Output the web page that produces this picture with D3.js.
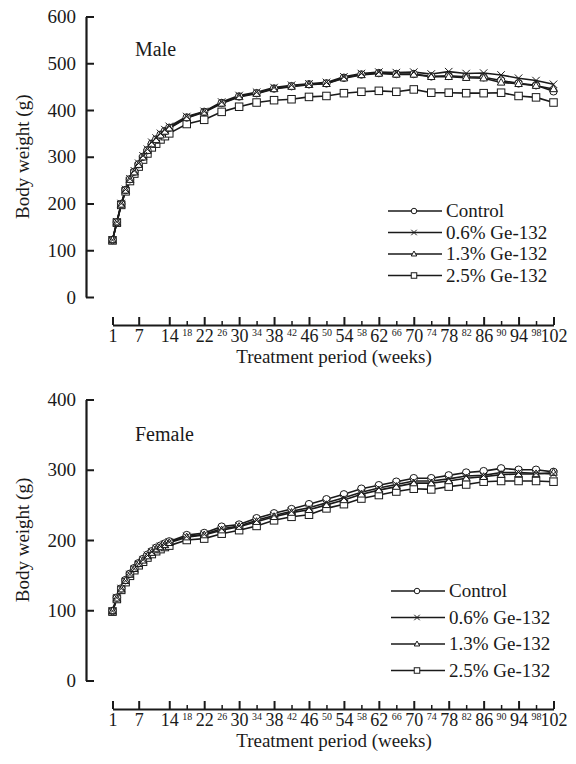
<!DOCTYPE html>
<html>
<head>
<meta charset="utf-8">
<script src="https://cdn.jsdelivr.net/npm/d3@7"></script>
<style>
  body { margin: 0; background: #fff; }
</style>
</head>
<body>
<svg id="chart" width="576" height="764" font-family="'Liberation Serif', 'Times New Roman', serif"></svg>
<script>
// weeks at which body weight was recorded
var weeks = [1,2,3,4,5,6,7,8,9,10,11,12,13,14,18,22,26,30,34,38,42,46,50,54,58,62,66,70,74,78,82,86,90,94,98,102];
var majorTicks = [1,7,14,22,30,38,46,54,62,70,78,86,94,102];
var minorTicks = [18,26,34,42,50,58,66,74,82,90,98];
var groups = ['Control', '0.6% Ge-132', '1.3% Ge-132', '2.5% Ge-132'];
var symbols = ['circle', 'cross', 'triangle', 'square'];

var maleControl = [122,160,199,229,252,268,284,300,314,328,337,347,355,362,384,396,415,429,436,446,451,455,457,469,476,479,477,477,472,473,471,470,463,457,453,440];
var male06 = [122,161,200,230,253,270,286,302,316,331,340,350,358,365,386,397,417,431,438,448,453,456,459,471,478,481,480,481,477,482,478,479,475,468,463,455];
var male13 = [122,160,198,228,251,267,283,299,313,327,336,346,354,361,383,395,414,428,435,445,450,454,456,468,475,478,476,476,471,471,469,468,459,456,452,445];
var male25 = [121,159,197,226,248,264,279,294,307,320,328,337,344,350,370,379,396,407,416,421,423,428,430,436,439,441,439,444,437,437,436,436,437,430,427,416];

var femaleControl = [99,118,131,143,152,160,167,173,179,184,189,192,195,198,207,210,219,222,231,238,244,251,258,265,273,278,283,288,288,292,296,298,302,300,300,297];
var female06 = [99,118,131,142,151,159,166,172,178,183,188,191,194,197,205,208,216,220,228,235,241,246,253,260,268,274,279,284,284,287,291,292,296,296,295,294];
var female13 = [99,117,130,142,151,159,166,171,177,182,187,190,193,196,204,207,214,219,226,233,239,243,250,257,265,271,276,281,281,284,288,290,293,294,294,296];
var female25 = [98,116,129,140,149,157,164,169,175,180,184,187,190,192,200,202,209,214,220,228,233,236,245,251,259,264,269,273,272,276,279,283,284,284,284,283];

var maleTicks = [0,100,200,300,400,500,600];
var femaleTicks = [0,100,200,300,400];

var svg = d3.select('#chart');
var x = d3.scaleLinear().domain([1, 102]).range([112.5, 553.5]);
var ink = '#1a1a1a';

function marker(g, type, cx, cy, s) {
  if (type === 'circle') {
    g.append('circle').attr('cx', cx).attr('cy', cy).attr('r', s * 0.5)
      .attr('fill', '#fff').attr('stroke', ink).attr('stroke-width', 1);
  } else if (type === 'square') {
    g.append('rect').attr('x', cx - s / 2).attr('y', cy - s / 2).attr('width', s).attr('height', s)
      .attr('fill', '#fff').attr('stroke', ink).attr('stroke-width', 1);
  } else if (type === 'triangle') {
    var h = s * 0.9;
    g.append('path').attr('d', 'M' + cx + ',' + (cy - h * 0.6) + 'L' + (cx + s / 2) + ',' + (cy + h * 0.4) + 'L' + (cx - s / 2) + ',' + (cy + h * 0.4) + 'Z')
      .attr('fill', '#fff').attr('stroke', ink).attr('stroke-width', 1);
  } else {
    var d = s * 0.5;
    g.append('path').attr('d', 'M' + (cx - d) + ',' + (cy - d) + 'L' + (cx + d) + ',' + (cy + d) + 'M' + (cx + d) + ',' + (cy - d) + 'L' + (cx - d) + ',' + (cy + d))
      .attr('fill', 'none').attr('stroke', ink).attr('stroke-width', 1);
  }
}

function panel(opt) {
  var y = d3.scaleLinear().domain([0, opt.max]).range([opt.bottom, opt.top]);
  var g = svg.append('g');

  // y axis
  var ya = g.append('g').attr('transform', 'translate(86,0)')
    .call(d3.axisLeft(y).tickValues(opt.ticks).tickSizeInner(-8).tickSizeOuter(0).tickPadding(10))
    .attr('font-family', null).attr('font-size', null);
  ya.select('.domain').attr('stroke', ink).attr('stroke-width', 2.2);
  ya.selectAll('.tick line').attr('stroke', ink).attr('stroke-width', 2);
  ya.selectAll('text').attr('font-size', 19).attr('fill', ink);

  g.append('text').attr('transform', 'translate(29,' + (opt.top + opt.bottom) / 2 + ') rotate(-90)')
    .attr('text-anchor', 'middle').attr('font-size', 19).attr('fill', ink).text('Body weight (g)');

  // x axis with major and minor weeks
  var xa = g.append('g').attr('transform', 'translate(0,' + opt.axisY + ')')
    .call(d3.axisBottom(x).tickValues(majorTicks).tickSizeInner(-8).tickSizeOuter(0).tickPadding(4.5))
    .attr('font-family', null).attr('font-size', null);
  xa.select('.domain').attr('stroke', ink).attr('stroke-width', 2.2);
  xa.selectAll('.tick line').attr('stroke', ink).attr('stroke-width', 2);
  xa.selectAll('text').attr('font-size', 18).attr('fill', ink);

  var xm = g.append('g').attr('transform', 'translate(0,' + opt.axisY + ')')
    .call(d3.axisBottom(x).tickValues(minorTicks).tickSizeInner(-4).tickSizeOuter(0).tickPadding(4))
    .attr('font-family', null).attr('font-size', null);
  xm.select('.domain').remove();
  xm.selectAll('.tick line').attr('stroke', ink).attr('stroke-width', 1.5);
  xm.selectAll('text').attr('font-size', 10).attr('fill', ink);

  g.append('text').attr('x', 334).attr('y', opt.axisY + 38).attr('text-anchor', 'middle')
    .attr('font-size', 19).attr('fill', ink).text('Treatment period (weeks)');

  g.append('text').attr('x', 135).attr('y', opt.titleY).attr('font-size', 20).attr('fill', ink).text(opt.title);

  // lines
  var line = d3.line().x(function (d, i) { return x(weeks[i]); }).y(function (d) { return y(d); });
  opt.series.forEach(function (s) {
    g.append('path').datum(s).attr('d', line).attr('fill', 'none')
      .attr('stroke', ink).attr('stroke-width', 1.6);
  });

  // markers: squares first, then circles, triangles, crosses
  var order = [3, 0, 2, 1];
  order.forEach(function (k) {
    var mg = g.append('g');
    opt.series[k].forEach(function (v, i) {
      marker(mg, symbols[k], x(weeks[i]), y(v), 7.5);
    });
  });

  // legend
  groups.forEach(function (name, k) {
    var ly = opt.legendY + k * opt.legendStep;
    var lg = g.append('g');
    lg.append('line').attr('x1', opt.legendX).attr('x2', opt.legendX + 54).attr('y1', ly).attr('y2', ly)
      .attr('stroke', ink).attr('stroke-width', 1.3);
    marker(lg, symbols[k], opt.legendX + 26, ly, 5.5);
    lg.append('text').attr('x', opt.legendX + 58).attr('y', ly).attr('dy', '0.33em')
      .attr('font-size', 19).attr('fill', ink).text(name);
  });
}

panel({
  max: 600, ticks: maleTicks, top: 16.5, bottom: 297, axisY: 325, title: 'Male', titleY: 56,
  series: [maleControl, male06, male13, male25],
  legendX: 388, legendY: 211, legendStep: 21.5
});

panel({
  max: 400, ticks: femaleTicks, top: 399.5, bottom: 680.5, axisY: 709, title: 'Female', titleY: 441,
  series: [femaleControl, female06, female13, female25],
  legendX: 391, legendY: 591, legendStep: 26.5
});
</script>
</body>
</html>
